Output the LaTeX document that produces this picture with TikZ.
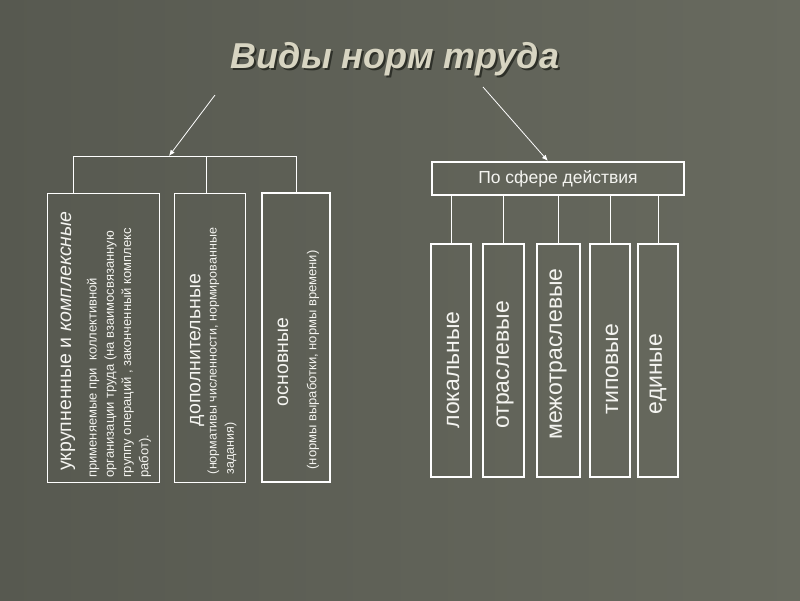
\documentclass[tikz,border=0pt]{standalone}
\usepackage{fontspec}
\setmainfont{Liberation Sans}
\usepackage{graphicx}
\usetikzlibrary{calc}
\usetikzlibrary{arrows.meta}
\tikzset{>={Latex[width=5pt,length=6pt]}}
\definecolor{bgdark}{HTML}{575950}
\definecolor{bglight}{HTML}{686A5F}
\definecolor{titlecol}{HTML}{D8D5C2}
\definecolor{shadowcol}{HTML}{2E3029}
\definecolor{txtcol}{HTML}{F4F4F0}
\newcommand{\shadowed}[1]{\rlap{\hspace{2pt}\raisebox{-2pt}{\color{shadowcol}#1}}#1}
\tikzset{
  box/.style={draw=white, line width=1pt, inner sep=0pt},
  thickbox/.style={draw=white, line width=2.2pt, inner sep=0pt},
  vtext/.style={rotate=90, text=txtcol, inner sep=0pt},
  head/.style={vtext, font=\fontsize{19.5}{22}\selectfont},
  note/.style={vtext, align=left, font=\fontsize{13}{17.3}\selectfont},
  kind/.style={vtext, font=\fontsize{23}{25}\selectfont},
  link/.style={white, line width=1pt},
}

\begin{document}
\begin{tikzpicture}[x=1pt, y=-1pt]
    \shade[left color=bgdark, right color=bglight] (0,0) rectangle (800,600);

    % title
    \node[font=\bfseries\itshape\fontsize{36}{40}\selectfont, text=titlecol] (title) at (395,60) {\shadowed{Виды норм труда}};

    % left group
    \node[box, minimum width=112pt, minimum height=289pt] (b1) at (103,337.5) {};
    \node[box, minimum width=71pt, minimum height=289pt] (b2) at (209.5,337.5) {};
    \node[thickbox, minimum width=68pt, minimum height=289pt] (b3) at (296,337.5) {};

    \node[head] (h1) at (68,341) {укрупненные и \textit{комплексные}};
    \node[note] (n1) at (119,353) {применяемые при \ коллективной\\организации труда (на взаимосвязанную\\группу операций , законченный комплекс\\работ).};
    \node[head] (h2) at (197,350) {дополнительные};
    \node[note, font=\fontsize{12.5}{17.3}\selectfont] (n2) at (222,351) {(нормативы численности, нормированные\\задания)};
    \node[head] (h3) at (283,362) {основные};
    \node[note] (n3) at (313,360) {(нормы выработки, нормы времени)};

    \coordinate (jl) at (73,156);
    \coordinate (jm) at (169,156);
    \draw[link] (jl |- b1.north) -- (jl) -| (b3.north);
    \draw[link] ($(b2.north)+(-3,0)$) -- ($(b2.north |- jl)+(-3,0)$);

    % right group
    \node[thickbox, minimum width=252pt, minimum height=33pt, text=txtcol, font=\fontsize{17.5}{20}\selectfont] (sf) at (558,178.5) {По сфере действия};
    \node[thickbox, minimum width=40pt, minimum height=233pt] (s1) at (451,360.5) {};
    \node[thickbox, minimum width=41pt, minimum height=233pt] (s2) at (503.5,360.5) {};
    \node[thickbox, minimum width=43pt, minimum height=233pt] (s3) at (558.5,360.5) {};
    \node[thickbox, minimum width=40pt, minimum height=233pt] (s4) at (610,360.5) {};
    \node[thickbox, minimum width=40pt, minimum height=233pt] (s5) at (658,360.5) {};
    \node[kind] (k1) at (453,370) {локальные};
    \node[kind] (k2) at (505,365) {отраслевые};
    \node[kind] (k3) at (558,354) {межотраслевые};
    \node[kind] (k4) at (612,369) {типовые};
    \node[kind] (k5) at (658,374) {единые};
    \draw[link] (s1.north) -- (s1.north |- sf.south);
    \draw[link] (s2.north) -- (s2.north |- sf.south);
    \draw[link] (s3.north) -- (s3.north |- sf.south);
    \draw[link] (s4.north) -- (s4.north |- sf.south);
    \draw[link] (s5.north) -- (s5.north |- sf.south);

    % arrows from the title
    \coordinate (al) at (215,95);
    \coordinate (ar) at (483,87);
    \draw[->, white, line width=0.8pt] (al) -- (jm);
    \draw[->, white, line width=0.8pt] (ar) -- ($(sf.north west)!0.46!(sf.north east)$);
\end{tikzpicture}
\end{document}
